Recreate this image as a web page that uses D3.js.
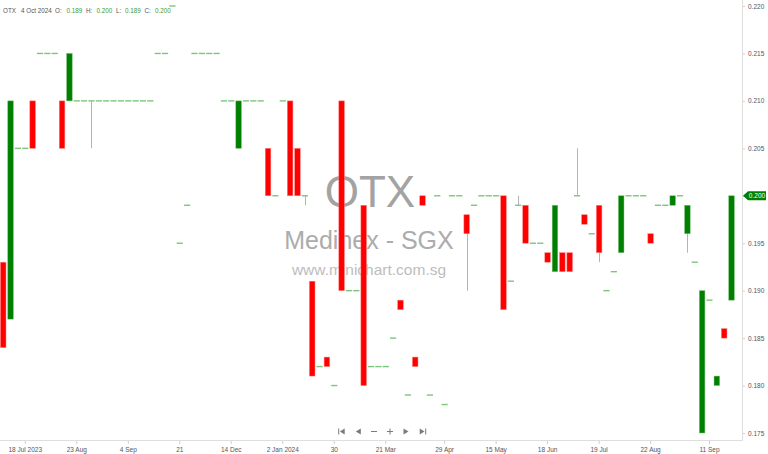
<!DOCTYPE html>
<html>
<head>
<meta charset="utf-8">
<script src="https://cdn.jsdelivr.net/npm/d3@7"></script>
<style>
	body { margin:0; background:#fff; }
	svg { display:block; background:#fff; }
	.axis text { font-family:"Liberation Sans", Arial, sans-serif; font-size:6.5px; fill:#555; }
	.axis line { stroke:#cfcfcf; }
</style>
</head>
<body>
<svg id="svg" width="768" height="454"></svg>
<script>

// one candle per trading period, oldest first
var opens = [
	0.193,0.187,0.205,0.205,0.210,0.215,0.215,0.215,0.210,0.210,
	0.210,0.210,0.210,0.210,0.210,0.210,0.210,0.210,0.210,0.210,
	0.210,0.215,0.215,0.220,0.195,0.199,0.215,0.215,0.215,0.215,
	0.210,0.210,0.205,0.210,0.210,0.210,0.205,0.200,0.210,0.210,
	0.205,0.200,0.191,0.182,0.183,0.180,0.210,0.190,0.190,0.199,
	0.182,0.182,0.182,0.185,0.189,0.179,0.183,0.200,0.179,0.200,
	0.178,0.200,0.200,0.198,0.199,0.200,0.200,0.200,0.200,0.191,
	0.199,0.199,0.195,0.195,0.194,0.192,0.194,0.194,0.200,0.198,
	0.196,0.199,0.190,0.192,0.194,0.200,0.200,0.200,0.196,0.199,
	0.199,0.199,0.200,0.196,0.193,0.175,0.189,0.180,0.186,0.189
];
var highs = [
	0.193,0.210,0.205,0.205,0.210,0.215,0.215,0.215,0.210,0.215,
	0.210,0.210,0.210,0.210,0.210,0.210,0.210,0.210,0.210,0.210,
	0.210,0.215,0.215,0.220,0.195,0.199,0.215,0.215,0.215,0.215,
	0.210,0.210,0.210,0.210,0.210,0.210,0.205,0.200,0.210,0.210,
	0.205,0.200,0.191,0.182,0.183,0.180,0.210,0.190,0.190,0.199,
	0.182,0.182,0.182,0.185,0.189,0.179,0.183,0.200,0.179,0.200,
	0.178,0.200,0.200,0.198,0.199,0.200,0.200,0.200,0.200,0.191,
	0.200,0.199,0.195,0.195,0.194,0.199,0.194,0.194,0.205,0.198,
	0.196,0.199,0.190,0.192,0.200,0.200,0.200,0.200,0.196,0.199,
	0.199,0.200,0.200,0.199,0.193,0.190,0.189,0.181,0.186,0.200
];
var lows = [
	0.184,0.187,0.205,0.205,0.205,0.215,0.215,0.215,0.205,0.210,
	0.210,0.210,0.205,0.210,0.210,0.210,0.210,0.210,0.210,0.210,
	0.210,0.215,0.215,0.220,0.195,0.199,0.215,0.215,0.215,0.215,
	0.210,0.210,0.205,0.210,0.210,0.210,0.200,0.200,0.210,0.200,
	0.200,0.199,0.181,0.182,0.182,0.180,0.190,0.190,0.190,0.180,
	0.182,0.182,0.182,0.185,0.188,0.179,0.182,0.199,0.179,0.200,
	0.178,0.200,0.200,0.190,0.199,0.200,0.200,0.200,0.188,0.191,
	0.199,0.195,0.195,0.195,0.193,0.192,0.192,0.192,0.200,0.197,
	0.196,0.193,0.190,0.192,0.194,0.200,0.200,0.200,0.195,0.199,
	0.199,0.199,0.200,0.194,0.193,0.175,0.189,0.180,0.185,0.189
];
var closes = [
	0.184,0.210,0.205,0.205,0.205,0.215,0.215,0.215,0.205,0.215,
	0.210,0.210,0.210,0.210,0.210,0.210,0.210,0.210,0.210,0.210,
	0.210,0.215,0.215,0.220,0.195,0.199,0.215,0.215,0.215,0.215,
	0.210,0.210,0.210,0.210,0.210,0.210,0.200,0.200,0.210,0.200,
	0.200,0.200,0.181,0.182,0.182,0.180,0.190,0.190,0.190,0.180,
	0.182,0.182,0.182,0.185,0.188,0.179,0.182,0.199,0.179,0.200,
	0.178,0.200,0.200,0.196,0.199,0.200,0.200,0.200,0.188,0.191,
	0.199,0.195,0.195,0.195,0.193,0.199,0.192,0.192,0.200,0.197,
	0.196,0.194,0.190,0.192,0.200,0.200,0.200,0.200,0.195,0.199,
	0.199,0.200,0.200,0.199,0.193,0.190,0.189,0.181,0.185,0.200
];

// date labels and the candle each one sits under
var tickLabels  = ["18 Jul 2023","23 Aug","4 Sep","21","14 Dec","2 Jan 2024","30","21 Mar","29 Apr","15 May","18 Jun","19 Jul","22 Aug","11 Sep"];
var tickCandles = [3,10,17,24,31,38,45,52,60,67,74,81,88,96];

// price axis
var priceTicks = [0.175,0.180,0.185,0.190,0.195,0.200,0.205,0.210,0.215,0.220];

// texts
var symbol      = "OTX";
var lastDate    = "4 Oct 2024";
var companyName = "Medinex - SGX";
var siteName    = "www.minichart.com.sg";


var svg = d3.select("#svg");

var n = closes.length;
var last = n - 1;

// frame of the plot
var plotRight = 742, plotBottom = 440;

// scales
var x = d3.scaleBand()
	.domain( d3.range(n) )
	.range( [-0.48, 735.22] );

var y = d3.scaleLinear()
	.domain( [0.175, 0.220] )
	.range( [433, 6] );

var bodyW = x.bandwidth() * 0.76;
var cx = function(i) { return x(i) + x.bandwidth() / 2; };

// colors
var upFill = "#008000", upStroke = "#7fbf7f";
var downFill = "#ff0000", downStroke = "#ff8080";
var wickColor = "#b4b4b4";
var flatColor = "#7cc67c";

var candles = d3.range(n).map(function(i){
	return { i:i, o:opens[i], h:highs[i], l:lows[i], c:closes[i] };
});

////////////////////////////
// watermark

var gMark = svg.append("g")
	.attr("font-family", "'Liberation Sans', Arial, sans-serif")
	.attr("text-anchor", "middle");

gMark.append("text")
	.attr("x", 370).attr("y", 206.5)
	.attr("font-size", 44)
	.attr("fill", "#a3a3a3")
	.text( symbol );

gMark.append("text")
	.attr("x", 369).attr("y", 248.5)
	.attr("font-size", 25)
	.attr("fill", "#acacac")
	.text( companyName );

gMark.append("text")
	.attr("x", 369).attr("y", 275)
	.attr("font-size", 15.5)
	.attr("fill", "#bdbdbd")
	.text( siteName );

////////////////////////////
// axes

var gx = svg.append("g")
	.attr("class", "axis")
	.attr("transform", "translate(0," + plotBottom + ")")
	.call( d3.axisBottom(x)
		.tickValues( tickCandles )
		.tickFormat( function(d, k){ return tickLabels[k]; } )
		.tickSize(4)
		.tickPadding(3)
	);
gx.select(".domain").remove();
gx.selectAll("text").attr("fill", "#444");

var gy = svg.append("g")
	.attr("class", "axis")
	.attr("transform", "translate(" + plotRight + ",0)")
	.call( d3.axisRight(y)
		.tickValues( priceTicks )
		.tickFormat( d3.format(".3f") )
		.tickSize(3)
		.tickPadding(3)
	);
gy.select(".domain").remove();

// frame lines
svg.append("line")
	.attr("x1", 0).attr("x2", plotRight + 0.5)
	.attr("y1", plotBottom + 0.5).attr("y2", plotBottom + 0.5)
	.attr("stroke", "#dedede");
svg.append("line")
	.attr("x1", plotRight + 0.5).attr("x2", plotRight + 0.5)
	.attr("y1", 0).attr("y2", plotBottom + 0.5)
	.attr("stroke", "#dedede");

////////////////////////////
// candles

var gWick = svg.append("g");
var gBody = svg.append("g");

gWick.selectAll("line")
	.data( candles.filter(function(d){ return d.h !== d.l; }) )
	.enter().append("line")
	.attr("x1", function(d){ return Math.round(cx(d.i)) + 0.5; })
	.attr("x2", function(d){ return Math.round(cx(d.i)) + 0.5; })
	.attr("y1", function(d){ return y(d.h); })
	.attr("y2", function(d){ return y(d.l); })
	.attr("stroke", wickColor)
	.attr("stroke-width", 1);

gBody.selectAll("rect")
	.data( candles.filter(function(d){ return d.o !== d.c; }) )
	.enter().append("rect")
	.attr("x", function(d){ return cx(d.i) - bodyW / 2; })
	.attr("y", function(d){ return y( Math.max(d.o, d.c) ); })
	.attr("width", bodyW)
	.attr("height", function(d){ return y( Math.min(d.o, d.c) ) - y( Math.max(d.o, d.c) ); })
	.attr("fill", function(d){ return d.c > d.o ? upFill : downFill; })
	.attr("stroke", function(d){ return d.c > d.o ? upStroke : downStroke; })
	.attr("stroke-width", 0.5);

// open == close: a short flat dash
gBody.selectAll("line.flat")
	.data( candles.filter(function(d){ return d.o === d.c; }) )
	.enter().append("line")
	.attr("class", "flat")
	.attr("x1", function(d){ return cx(d.i) - bodyW / 2 - 0.3; })
	.attr("x2", function(d){ return cx(d.i) + bodyW / 2 + 0.3; })
	.attr("y1", function(d){ return y(d.o); })
	.attr("y2", function(d){ return y(d.o); })
	.attr("stroke", flatColor)
	.attr("stroke-width", 1.4);

////////////////////////////
// last price tag

var lastY = y( closes[last] );
var gTag = svg.append("g")
	.attr("transform", "translate(" + (plotRight + 1) + "," + lastY + ")");

gTag.append("path")
	.attr("d", "M0,0 L5,-4.5 L23,-4.5 L23,4.5 L5,4.5 Z")
	.attr("fill", upFill);

gTag.append("text")
	.attr("x", 14).attr("y", 2.3)
	.attr("text-anchor", "middle")
	.attr("font-family", "'Liberation Sans', Arial, sans-serif")
	.attr("font-size", 6.5)
	.attr("fill", "#fff")
	.text( d3.format(".3f")( closes[last] ) );

////////////////////////////
// header line

var fmt = d3.format(".3f");
var header = [
	{ t:symbol, x:3, c:"#555" },
	{ t:lastDate, x:21, c:"#555" },
	{ t:"O:", x:55, c:"#555" },
	{ t:fmt(opens[last]), x:66.5, c:"#3a9a3a" },
	{ t:"H:", x:86, c:"#555" },
	{ t:fmt(highs[last]), x:96.5, c:"#3a9a3a" },
	{ t:"L:", x:116, c:"#555" },
	{ t:fmt(lows[last]), x:125, c:"#3a9a3a" },
	{ t:"C:", x:144.5, c:"#555" },
	{ t:fmt(closes[last]), x:155, c:"#3a9a3a" }
];

svg.append("g")
	.attr("font-family", "'Liberation Sans', Arial, sans-serif")
	.attr("font-size", 6.3)
	.selectAll("text")
	.data( header )
	.enter().append("text")
	.attr("x", function(d){ return d.x; })
	.attr("y", 12.5)
	.attr("fill", function(d){ return d.c; })
	.text(function(d){ return d.t; });

////////////////////////////
// navigation buttons

var navIcons = [
	"M-3.5,-3 h1 v6 h-1 Z M3,-3 L3,3 L-1.8,0 Z",
	"M2.5,-3 L2.5,3 L-2.5,0 Z",
	"M-3,-0.5 h6 v1 h-6 Z",
	"M-3,-0.5 h6 v1 h-6 Z M-0.5,-3 h1 v6 h-1 Z",
	"M-2.5,-3 L-2.5,3 L2.5,0 Z",
	"M-3,-3 L-3,3 L1.8,0 Z M2.5,-3 h1 v6 h-1 Z"
];
var navX = [341.7, 358.3, 374, 390, 406, 422.7];

svg.append("g")
	.selectAll("path")
	.data( navIcons )
	.enter().append("path")
	.attr("transform", function(d, k){ return "translate(" + navX[k] + ",431.5)"; })
	.attr("d", function(d){ return d; })
	.attr("fill", "#7a7a7a");

</script>
</body>
</html>
